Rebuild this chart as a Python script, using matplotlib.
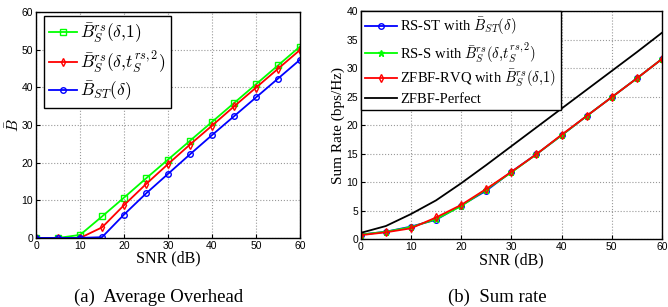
import matplotlib
matplotlib.use("Agg")
import matplotlib.pyplot as plt
import numpy as np

plt.rcParams['mathtext.fontset'] = 'cm'

snr = np.arange(0, 65, 5)

# (a) average overhead
b_s1 = [0, 0, 0.8, 5.7, 10.7, 15.8, 20.8, 25.8, 30.8, 35.8, 40.8, 45.8, 50.8]
b_s2 = [0, 0, 0, 2.8, 8.7, 14.3, 19.6, 24.8, 29.8, 34.9, 39.9, 44.9, 49.9]
b_st = [0, 0, 0, 0.2, 6.2, 11.8, 17.0, 22.2, 27.3, 32.3, 37.3, 42.3, 47.3]

# (b) sum rate
rate_st = [0.8, 1.3, 2.2, 3.4, 5.9, 8.5, 11.8, 14.9, 18.2, 21.6, 24.9, 28.2, 31.6]
rate_s = [0.8, 1.3, 2.1, 3.5, 5.8, 8.7, 11.7, 14.9, 18.2, 21.6, 24.9, 28.2, 31.6]
rate_rvq = [0.7, 1.2, 1.9, 3.8, 6.0, 8.8, 11.8, 14.9, 18.3, 21.6, 24.9, 28.2, 31.6]
rate_perfect = [1.1, 2.3, 4.4, 6.8, 9.8, 13.0, 16.3, 19.6, 22.9, 26.2, 29.5, 32.8, 36.2]

serif = 'Liberation Serif'
tickfont = 'Liberation Sans'

fig = plt.figure(figsize=(6.68, 3.07), dpi=100)
ax1 = fig.add_axes([0.054, 0.225, 0.395, 0.736])
ax2 = fig.add_axes([0.540, 0.221, 0.451, 0.743])

ax1.plot(snr, b_s1, '-s', color='#00ff00', lw=1.3, ms=4, mfc='none', mew=1,
         label=r'$\bar{B}_S^{rs}(\delta,\!1)$')
ax1.plot(snr, b_s2, '-d', color='red', lw=1.3, ms=4, mfc='none', mew=1,
         label=r'$\bar{B}_S^{rs}(\delta,\!t_S^{rs,2})$')
ax1.plot(snr, b_st, '-o', color='blue', lw=1.3, ms=4, mfc='none', mew=1,
         label=r'$\bar{B}_{ST}(\delta)$')
ax1.set_xlim(0, 60)
ax1.set_ylim(0, 60)
ax1.set_xticks(np.arange(0, 61, 10))
ax1.set_yticks(np.arange(0, 61, 10))
ax1.set_xlabel('SNR (dB)', family=serif, fontsize=11.5, labelpad=0)
ax1.set_ylabel(r'$\bar{B}$', fontsize=11, labelpad=0)
leg1 = ax1.legend(loc='upper left', bbox_to_anchor=(0.03, 0.98), fontsize=12.5,
                  handlelength=1.6, handletextpad=0.2, borderaxespad=0.0,
                  labelspacing=0.2, borderpad=0.3, fancybox=False,
                  edgecolor='black', framealpha=1)
leg1.get_frame().set_linewidth(1)

ax2.plot(snr, rate_st, '-o', color='blue', lw=1.3, ms=4, mfc='none', mew=1,
         label=r'RS-ST with $\bar{B}_{ST}(\delta)$')
ax2.plot(snr, rate_s, '-*', color='#00ff00', lw=1.3, ms=5, mew=1,
         label=r'RS-S with $\bar{B}_S^{rs}(\delta,\!t_S^{rs,2})$')
ax2.plot(snr, rate_rvq, '-d', color='red', lw=1.3, ms=4, mfc='none', mew=1,
         label=r'ZFBF-RVQ with $\bar{B}_S^{rs}(\delta,\!1)$')
ax2.plot(snr, rate_perfect, '-', color='black', lw=1.3, label='ZFBF-Perfect')
ax2.set_xlim(0, 60)
ax2.set_ylim(0, 40)
ax2.set_xticks(np.arange(0, 61, 10))
ax2.set_yticks(np.arange(0, 41, 5))
ax2.set_xlabel('SNR (dB)', family=serif, fontsize=11.5, labelpad=0)
ax2.set_ylabel('Sum Rate (bps/Hz)', family=serif, fontsize=11, labelpad=1)
leg2 = ax2.legend(loc='upper left', handlelength=2.2, handletextpad=0.2,
                  borderaxespad=0.0, labelspacing=0.22, borderpad=0.3,
                  fancybox=False, edgecolor='black', framealpha=1,
                  prop={'family': serif, 'size': 10.5})
leg2.get_frame().set_linewidth(1)

for ax in (ax1, ax2):
    ax.grid(True, linestyle=':', color='#999999', lw=0.8)
    ax.tick_params(direction='in', labelsize=7.5, length=3, pad=2)
    for lab in ax.get_xticklabels() + ax.get_yticklabels():
        lab.set_family(tickfont)
    for sp in ax.spines.values():
        sp.set_linewidth(1)

fig.text(0.238, 0.03, '(a)  Average Overhead', family=serif, fontsize=13.5,
         ha='center', va='center')
fig.text(0.745, 0.03, '(b)  Sum rate', family=serif, fontsize=13.5,
         ha='center', va='center')

fig.savefig('out.png', dpi=100)
